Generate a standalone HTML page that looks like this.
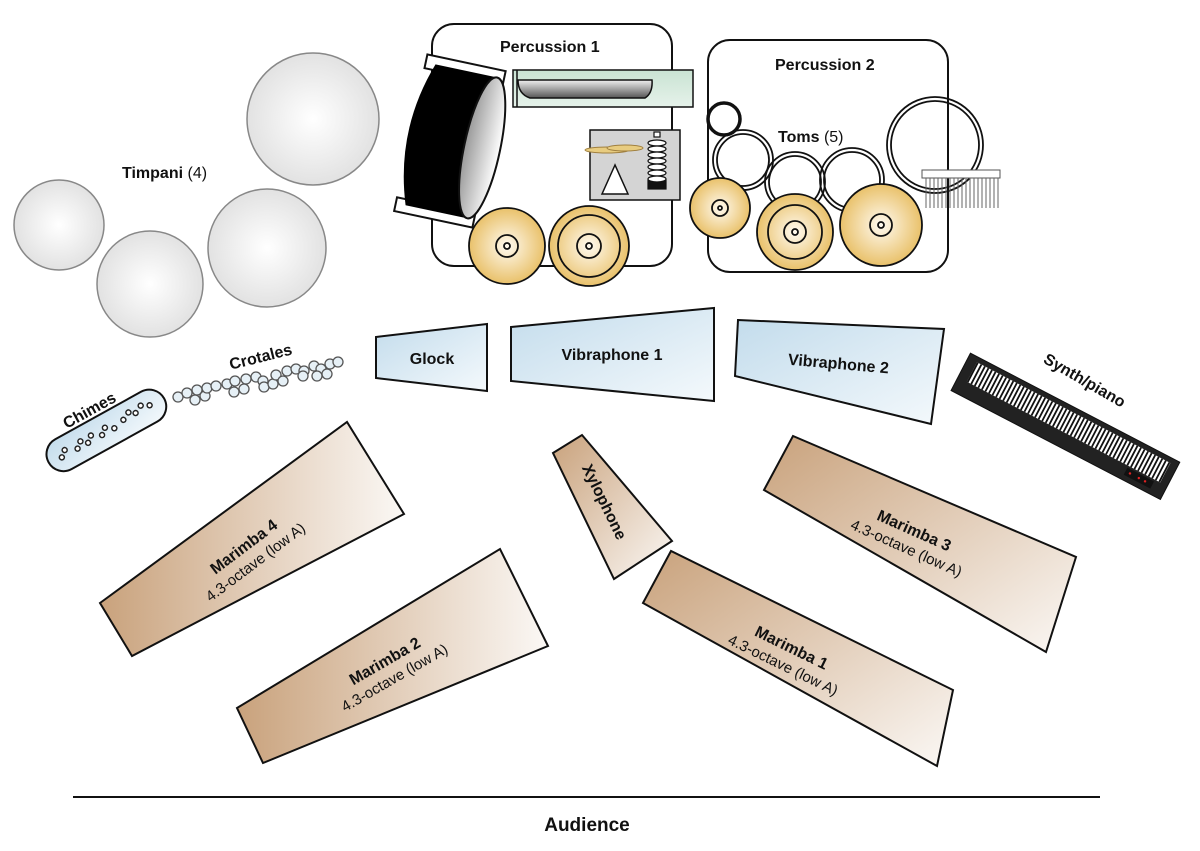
<!DOCTYPE html>
<html><head><meta charset="utf-8"><style>
html,body{margin:0;padding:0;background:#fff}
svg{display:block}
text{font-family:"Liberation Sans","DejaVu Sans",sans-serif;fill:#111}
.b{font-weight:bold;font-size:16px}
.n{font-size:15px}
</style></head><body>
<svg width="1200" height="851" viewBox="0 0 1200 851" xmlns="http://www.w3.org/2000/svg">
<defs>
<radialGradient id="tim" cx="50%" cy="50%" r="50%"><stop offset="0" stop-color="#fff"/><stop offset="1" stop-color="#e2e2e2"/></radialGradient>
<radialGradient id="cym" cx="50%" cy="50%" r="50%"><stop offset="0" stop-color="#fffaf0"/><stop offset="1" stop-color="#e9c16a"/></radialGradient>
<linearGradient id="blue" x1="0" y1="0" x2="1" y2="1"><stop offset="0" stop-color="#c3dcec"/><stop offset="1" stop-color="#f4f9fc"/></linearGradient>
<linearGradient id="tanL" x1="0" y1="0" x2="1" y2="0"><stop offset="0" stop-color="#c9a27c"/><stop offset="1" stop-color="#fbf8f5"/></linearGradient>
<linearGradient id="tanD" x1="0" y1="0" x2="1" y2="1"><stop offset="0" stop-color="#c9a27c"/><stop offset="1" stop-color="#fbf8f5"/></linearGradient>
<linearGradient id="green" x1="0" y1="0" x2="0" y2="1"><stop offset="0" stop-color="#c9e3d3"/><stop offset="1" stop-color="#e6f2ea"/></linearGradient>
<linearGradient id="bar" x1="0" y1="0" x2="0" y2="1"><stop offset="0" stop-color="#f0f0f0"/><stop offset="1" stop-color="#555"/></linearGradient>
<linearGradient id="head" x1="0" y1="0" x2="1" y2="0"><stop offset="0" stop-color="#999"/><stop offset="1" stop-color="#fff"/></linearGradient>
</defs>

<!-- Timpani -->
<g stroke="#888" stroke-width="1.5" fill="url(#tim)">
<circle cx="313" cy="119" r="66"/>
<circle cx="59" cy="225" r="45"/>
<circle cx="150" cy="284" r="53"/>
<circle cx="267" cy="248" r="59"/>
</g>
<text x="122" y="178" class="b">Timpani <tspan font-weight="normal">(4)</tspan></text>

<!-- Percussion boxes -->
<rect x="432" y="24" width="240" height="242" rx="22" fill="#fff" stroke="#111" stroke-width="2"/>
<rect x="708" y="40" width="240" height="232" rx="22" fill="#fff" stroke="#111" stroke-width="2"/>
<text x="500" y="52" class="b">Percussion 1</text>
<text x="775" y="70" class="b">Percussion 2</text>

<!-- bass drum -->
<g transform="rotate(12 445 140)">
<rect x="410" y="60" width="80" height="14" fill="#fff" stroke="#111" stroke-width="2"/>
<rect x="410" y="206" width="80" height="14" fill="#fff" stroke="#111" stroke-width="2"/>
<path d="M420 68 L485 68 L485 212 L420 212 Q395 140 420 68Z" fill="#000"/>
<ellipse cx="483" cy="140" rx="18" ry="72" fill="url(#head)" stroke="#111" stroke-width="2"/>
</g>

<!-- mallet table -->
<rect x="513" y="70" width="180" height="37" fill="url(#green)" stroke="#111" stroke-width="1.5"/>
<line x1="517" y1="70" x2="517" y2="107" stroke="#111" stroke-width="1.5"/>
<path d="M518 80 L652 80 Q653 93 645 98 L530 98 Q518 94 518 80Z" fill="url(#bar)" stroke="#111" stroke-width="1.5"/>
<!-- small gray box -->
<rect x="590" y="130" width="90" height="70" fill="#d4d4d4" stroke="#111" stroke-width="1.5"/>
<polygon points="615,165 602,194 628,194" fill="#fff" stroke="#111" stroke-width="1.5"/>
<ellipse cx="607" cy="150" rx="22" ry="3" fill="#e8cc80" stroke="#a08040"/>
<ellipse cx="625" cy="148" rx="18" ry="3" fill="#e8cc80" stroke="#a08040"/>
<g fill="#fff" stroke="#111" stroke-width="1.2">
<rect x="648" y="180" width="18" height="9" fill="#111"/>
<ellipse cx="657" cy="143" rx="9" ry="3"/><ellipse cx="657" cy="149" rx="9" ry="3"/><ellipse cx="657" cy="155" rx="9" ry="3"/>
<ellipse cx="657" cy="161" rx="9" ry="3"/><ellipse cx="657" cy="167" rx="9" ry="3"/><ellipse cx="657" cy="173" rx="9" ry="3"/><ellipse cx="657" cy="179" rx="9" ry="3"/>
<rect x="654" y="132" width="6" height="5"/>
</g>

<!-- perc1 cymbals -->
<g stroke="#111" stroke-width="1.8">
<circle cx="507" cy="246" r="38" fill="url(#cym)"/>
<circle cx="507" cy="246" r="11" fill="none"/><circle cx="507" cy="246" r="3" fill="none"/>
<circle cx="589" cy="246" r="40" fill="url(#cym)"/>
<circle cx="589" cy="246" r="31" fill="none"/><circle cx="589" cy="246" r="12" fill="none"/><circle cx="589" cy="246" r="3" fill="none"/>
</g>

<!-- perc2 -->
<g fill="none" stroke="#111">
<circle cx="724" cy="119" r="16" stroke-width="3.5"/>
<g stroke-width="1.8">
<circle cx="743" cy="160" r="30"/><circle cx="743" cy="160" r="26"/>
<circle cx="795" cy="182" r="30"/><circle cx="795" cy="182" r="26"/>
<circle cx="852" cy="180" r="32"/><circle cx="852" cy="180" r="28"/>
<circle cx="935" cy="145" r="48"/><circle cx="935" cy="145" r="44"/>
</g>
</g>
<text x="778" y="142" class="b">Toms <tspan font-weight="normal">(5)</tspan></text>
<rect x="922" y="170" width="78" height="8" fill="#fff" stroke="#555"/>
<g stroke="#666" stroke-width="1">
<path d="M926 178v30M930 178v30M934 178v30M938 178v30M942 178v30M946 178v30M950 178v30M954 178v30M958 178v30M962 178v30M966 178v30M970 178v30M974 178v30M978 178v30M982 178v30M986 178v30M990 178v30M994 178v30M998 178v30"/>
</g>
<g stroke="#111" stroke-width="1.8">
<circle cx="720" cy="208" r="30" fill="url(#cym)"/>
<circle cx="720" cy="208" r="8" fill="none"/><circle cx="720" cy="208" r="2" fill="none"/>
<circle cx="795" cy="232" r="38" fill="url(#cym)"/>
<circle cx="795" cy="232" r="27" fill="none"/><circle cx="795" cy="232" r="11" fill="none"/><circle cx="795" cy="232" r="3" fill="none"/>
<circle cx="881" cy="225" r="41" fill="url(#cym)"/>
<circle cx="881" cy="225" r="11" fill="none"/><circle cx="881" cy="225" r="3" fill="none"/>
</g>

<!-- mallets blue -->
<g stroke="#111" stroke-width="2" fill="url(#blue)">
<polygon points="376,337 487,324 487,391 376,378"/>
<polygon points="511,327 714,308 714,401 511,381"/>
<polygon points="738,320 944,329 931,424 735,376"/>
</g>
<text x="432" y="364" class="b" text-anchor="middle">Glock</text>
<text x="612" y="360" class="b" text-anchor="middle">Vibraphone 1</text>
<text x="838" y="369" class="b" text-anchor="middle" transform="rotate(5 838 369)">Vibraphone 2</text>

<!-- chimes -->
<g transform="rotate(-29 105 430)">
<rect x="40" y="414" width="132" height="34" rx="17" fill="url(#blue)" stroke="#111" stroke-width="2"/>
<g fill="#fff" stroke="#222" stroke-width="1.5">
<circle cx="54" cy="433" r="2.5"/><circle cx="60" cy="428" r="2.5"/><circle cx="72" cy="433" r="2.5"/><circle cx="78" cy="428" r="2.5"/><circle cx="84" cy="433" r="2.5"/><circle cx="90" cy="428" r="2.5"/><circle cx="100" cy="433" r="2.5"/><circle cx="106" cy="428" r="2.5"/><circle cx="114" cy="433" r="2.5"/><circle cx="126" cy="430" r="2.5"/><circle cx="134" cy="426" r="2.5"/><circle cx="140" cy="430" r="2.5"/><circle cx="148" cy="426" r="2.5"/><circle cx="156" cy="430" r="2.5"/>
</g>
</g>
<text x="92" y="415" class="b" transform="rotate(-29 92 415)" text-anchor="middle">Chimes</text>

<!-- crotales -->
<g fill="#e6f0f6" stroke="#555" stroke-width="1.3" transform="translate(-2 0)">
<circle cx="180" cy="397" r="5"/><circle cx="189" cy="393" r="5"/><circle cx="197" cy="400" r="5"/><circle cx="199" cy="390" r="5"/><circle cx="207" cy="396" r="5"/><circle cx="209" cy="388" r="5"/><circle cx="218" cy="386" r="5"/><circle cx="229" cy="384" r="5"/><circle cx="237" cy="381" r="5"/><circle cx="236" cy="392" r="5"/><circle cx="246" cy="389" r="5"/><circle cx="248" cy="379" r="5"/><circle cx="258" cy="377" r="5"/><circle cx="265" cy="381" r="5"/><circle cx="266" cy="387" r="5"/><circle cx="275" cy="384" r="5"/><circle cx="278" cy="375" r="5"/><circle cx="285" cy="381" r="5"/><circle cx="289" cy="371" r="5"/><circle cx="298" cy="369" r="5"/><circle cx="306" cy="371" r="5"/><circle cx="305" cy="376" r="5"/><circle cx="316" cy="366" r="5"/><circle cx="323" cy="369" r="5"/><circle cx="319" cy="376" r="5"/><circle cx="329" cy="374" r="5"/><circle cx="332" cy="364" r="5"/><circle cx="340" cy="362" r="5"/>
</g>
<text x="262" y="362" class="b" transform="rotate(-14 262 362)" text-anchor="middle">Crotales</text>

<!-- synth -->
<g transform="rotate(27.5 1065 425)">
<rect x="948" y="405" width="236" height="42" fill="#222" stroke="#111"/>
<rect x="958" y="410" width="218" height="22" fill="#fff"/>
<g stroke="#111" stroke-width="2.6" stroke-dasharray="1.8 2.2">
<line x1="958" y1="421" x2="1176" y2="421" stroke-width="22"/>
</g>
<rect x="1140" y="434" width="30" height="8" fill="#111"/>
<circle cx="1145" cy="438" r="1.2" fill="#d22"/><circle cx="1155" cy="438" r="1.2" fill="#d22"/><circle cx="1162" cy="438" r="1.2" fill="#d22"/>
</g>
<text x="1082" y="385" class="b" transform="rotate(30 1082 385)" text-anchor="middle">Synth/piano</text>

<!-- marimbas -->
<g stroke="#111" stroke-width="2">
<polygon points="100,603 347,422 404,514 132,656" fill="url(#tanL)"/>
<polygon points="237,708 500,549 548,646 263,763" fill="url(#tanL)"/>
<polygon points="553,453 582,435 672,541 614,579" fill="url(#tanD)"/>
<polygon points="643,603 671,551 953,690 937,766" fill="url(#tanD)"/>
<polygon points="764,490 793,436 1076,557 1046,652" fill="url(#tanD)"/>
</g>
<g transform="rotate(-37 250 555)"><text x="250" y="550" class="b" text-anchor="middle">Marimba 4</text><text x="250" y="569" class="n" text-anchor="middle">4.3-octave (low A)</text></g>
<g transform="rotate(-30 390 670)"><text x="390" y="665" class="b" text-anchor="middle">Marimba 2</text><text x="390" y="684" class="n" text-anchor="middle">4.3-octave (low A)</text></g>
<g transform="rotate(26 787 657)"><text x="787" y="652" class="b" text-anchor="middle">Marimba 1</text><text x="787" y="671" class="n" text-anchor="middle">4.3-octave (low A)</text></g>
<g transform="rotate(24 910 540)"><text x="910" y="535" class="b" text-anchor="middle">Marimba 3</text><text x="910" y="554" class="n" text-anchor="middle">4.3-octave (low A)</text></g>
<text x="604" y="507" class="b" text-anchor="middle" transform="rotate(64 604 502)">Xylophone</text>

<!-- audience -->
<line x1="73" y1="797" x2="1100" y2="797" stroke="#111" stroke-width="2"/>
<text x="587" y="831" class="b" text-anchor="middle" style="font-size:19px">Audience</text>
</svg>
</body></html>
